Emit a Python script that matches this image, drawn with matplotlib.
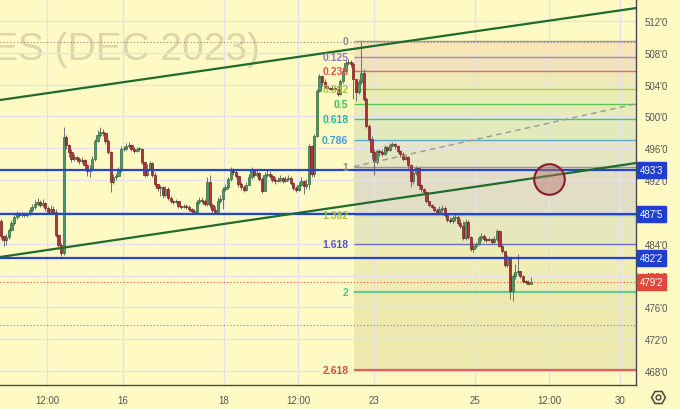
import matplotlib.pyplot as plt
from matplotlib.lines import Line2D
import numpy as np

plt.rcParams['font.family'] = ['Liberation Sans', 'DejaVu Sans']

# candle data (one bar per step), open of each bar = previous close
first_open = 486.9
closes = [
    485.0, 484.5, 484.8, 485.7, 486.6, 487.4, 487.7, 487.6, 487.7, 487.6,
    487.7, 488.2, 488.6, 489.0, 489.2, 488.9, 489.1, 488.5, 488.0, 488.4,
    488.0, 485.1, 483.8, 482.8, 497.4, 496.4, 495.5, 494.7, 494.9, 494.7,
    494.4, 494.5, 493.9, 493.1, 493.4, 494.7, 496.9, 497.7, 498.0, 497.9,
    496.9, 495.5, 491.8, 492.4, 492.5, 493.3, 495.9, 495.9, 496.3, 496.4,
    495.9, 495.7, 495.9, 495.9, 494.3, 492.6, 493.4, 494.2, 492.6, 491.5,
    491.0, 491.1, 490.1, 490.9, 489.8, 489.4, 489.2, 489.4, 488.7, 488.6,
    488.7, 488.6, 488.4, 488.1, 488.0, 489.2, 489.5, 489.4, 489.0, 491.8,
    488.9, 488.2, 488.0, 489.4, 489.6, 490.9, 491.1, 492.1, 493.1, 493.0,
    492.5, 491.5, 491.1, 490.7, 491.4, 492.4, 493.3, 492.6, 492.9, 492.1,
    490.6, 492.6, 492.8, 492.5, 492.0, 491.9, 492.0, 492.3, 491.9, 492.1,
    492.3, 491.6, 491.0, 490.7, 491.4, 491.9, 491.3, 491.5, 496.3, 492.8,
    497.5, 503.2, 505.1, 504.3, 503.8, 503.6, 503.5, 503.6, 503.5, 502.8,
    504.5, 505.7, 506.7, 506.8, 506.6, 504.7, 503.1, 504.3, 505.5, 502.2,
    498.8, 497.2, 495.5, 494.3, 495.7, 495.5, 495.3, 496.2, 495.8, 496.4,
    496.5, 496.3, 495.7, 495.3, 494.7, 494.9, 493.9, 491.9, 492.9, 493.5,
    491.4, 490.9, 490.5, 489.4, 488.9, 488.6, 488.2, 488.0, 488.4, 488.5,
    487.6, 487.0, 486.8, 487.2, 487.4, 486.6, 486.2, 484.7, 486.7, 484.8,
    483.3, 483.7, 484.0, 484.7, 485.0, 484.6, 484.5, 484.6, 484.2, 484.6,
    485.6, 483.7, 483.1, 481.3, 482.3, 478.1, 480.0, 480.4, 480.6, 480.0,
    479.3, 479.2, 479.0, 479.2]
highs = [
    487.1, 485.1, 485.2, 486.0, 487.0, 487.9, 488.1, 488.0, 488.0, 487.9,
    488.0, 488.6, 489.0, 489.5, 489.8, 489.5, 489.6, 489.2, 488.7, 488.9,
    488.7, 488.4, 485.2, 484.1, 498.7, 497.7, 496.5, 495.9, 495.3, 495.0,
    494.9, 494.9, 494.7, 494.0, 493.9, 495.0, 497.2, 498.3, 498.7, 498.4,
    498.0, 497.2, 495.7, 492.8, 492.9, 493.6, 496.3, 496.3, 496.7, 496.8,
    496.5, 496.2, 496.2, 496.2, 496.0, 494.3, 494.0, 494.4, 494.3, 493.0,
    491.5, 491.4, 491.3, 491.3, 491.1, 490.0, 489.5, 489.6, 489.4, 488.9,
    489.0, 489.0, 488.9, 488.5, 488.4, 489.5, 489.9, 489.9, 489.6, 492.4,
    492.6, 489.1, 488.7, 489.9, 490.1, 491.1, 491.5, 492.4, 493.6, 493.5,
    493.3, 492.6, 491.8, 491.4, 491.8, 492.8, 493.6, 493.4, 493.4, 493.0,
    492.4, 493.0, 493.3, 493.1, 492.8, 492.4, 492.4, 492.6, 492.4, 492.5,
    492.6, 492.5, 491.8, 491.3, 491.8, 492.4, 492.0, 492.1, 496.5, 496.4,
    497.8, 503.5, 505.3, 505.2, 504.7, 504.0, 503.7, 503.8, 503.7, 503.7,
    504.7, 506.1, 507.1, 507.2, 507.1, 506.8, 504.7, 504.7, 509.5, 506.0,
    502.4, 499.1, 497.5, 495.9, 495.9, 495.9, 495.9, 496.4, 496.3, 496.7,
    496.8, 496.7, 496.4, 495.8, 495.5, 495.2, 495.0, 494.0, 493.1, 493.8,
    493.6, 491.5, 491.0, 490.6, 489.4, 489.0, 488.7, 488.5, 488.7, 488.9,
    488.7, 487.9, 487.4, 487.6, 487.7, 487.6, 487.1, 486.8, 487.1, 487.0,
    485.0, 484.1, 484.2, 485.0, 485.4, 485.2, 484.8, 484.8, 484.7, 485.0,
    485.9, 485.7, 483.8, 483.1, 482.6, 482.5, 480.2, 481.5, 482.7, 480.6,
    480.1, 479.4, 479.4, 479.8]
lows = [
    484.6, 483.7, 483.8, 484.6, 485.6, 486.3, 487.1, 487.4, 487.4, 487.4,
    487.4, 487.5, 488.0, 488.4, 488.7, 488.6, 488.6, 488.1, 487.7, 487.9,
    487.7, 484.8, 483.3, 482.5, 482.6, 495.9, 494.9, 494.3, 494.4, 494.3,
    494.0, 494.2, 493.4, 492.5, 492.4, 493.1, 494.4, 496.8, 497.4, 497.5,
    496.5, 495.3, 490.5, 491.5, 492.0, 492.6, 493.0, 495.7, 495.8, 496.0,
    495.7, 495.4, 495.5, 495.7, 494.0, 492.4, 492.5, 493.3, 492.4, 491.3,
    490.6, 490.0, 489.8, 489.9, 489.5, 489.1, 489.0, 489.1, 488.5, 488.4,
    488.5, 488.4, 488.1, 487.9, 487.7, 488.0, 489.0, 489.1, 488.7, 488.7,
    488.5, 487.9, 487.7, 488.0, 489.1, 488.4, 490.6, 490.9, 491.9, 492.6,
    492.3, 491.1, 490.7, 490.5, 490.6, 491.4, 492.1, 492.4, 492.4, 491.9,
    490.4, 490.6, 492.4, 492.3, 491.8, 491.5, 491.8, 491.8, 491.6, 491.8,
    491.9, 491.4, 490.7, 490.5, 490.6, 491.3, 490.3, 490.9, 490.9, 492.4,
    492.4, 497.4, 503.1, 503.8, 503.6, 503.3, 503.3, 503.3, 503.2, 502.6,
    502.7, 504.2, 505.5, 506.5, 506.2, 502.2, 501.9, 502.8, 504.1, 501.9,
    498.5, 496.9, 494.7, 492.6, 494.0, 495.0, 495.0, 495.2, 495.5, 495.7,
    496.2, 495.9, 495.4, 494.9, 494.4, 494.5, 493.4, 491.1, 491.5, 492.6,
    490.9, 490.5, 490.3, 489.1, 488.6, 488.5, 488.0, 487.7, 487.7, 488.0,
    487.4, 486.7, 486.6, 486.6, 486.8, 486.3, 486.0, 484.5, 484.5, 484.6,
    483.1, 483.0, 483.5, 483.8, 484.3, 484.3, 484.2, 484.3, 484.0, 484.1,
    484.3, 483.6, 482.8, 481.1, 481.1, 477.1, 476.8, 479.6, 480.1, 479.7,
    479.1, 479.0, 478.9, 479.0]

price_ticks = [468, 472, 476, 480, 484, 488, 492, 496, 500, 504, 508, 512]
price_labels = ["468'0", "472'0", "476'0", "480'0", "484'0", "488'0",
                "492'0", "496'0", "500'0", "504'0", "508'0", "512'0"]
date_ticks = [17.6, 46.7, 85.4, 113.8, 142.9, 181.6, 210.0, 237.2]
date_labels = ['12:00', '16', '18', '12:00', '23', '25', '12:00', '30']

# fibonacci extension
fib_high = 509.5
fib_low = 493.7
fib_start = 135.2
fib_ratios = [0, 0.125, 0.236, 0.382, 0.5, 0.618, 0.786, 1, 1.382, 1.618, 2, 2.618]
fib_names = ['0', '0.125', '0.236', '0.382', '0.5', '0.618', '0.786', '1',
             '1.382', '1.618', '2', '2.618']
fib_colors = ['#8c8c8c', '#9478cc', '#e05252', '#a6c43c', '#3cc43c', '#2cb4a0',
              '#3d9fd9', '#8c8c8c', '#a6c43c', '#5656d0', '#48c890', '#dc4848']
fib_fills = ['#fbe5b7', '#f1e1c0', '#eee9b6', '#e9ecb5', '#e6ebb8', '#e4e9bc',
             '#e3e6c0', '#e2dec5', '#e7e7bd', '#efecb4', '#ece8ae']

# horizontal levels
blue_levels = [493.3, 487.7, 482.2]
blue_labels = ["493'3", "487'5", "482'2"]
last_price = 479.2
last_label = "479'2"
dotted_levels = [509.4, 473.8]

# trend lines
upper_x, upper_y = [-1, 244], [502.04, 513.66]
lower_x, lower_y = [-1, 244], [482.30, 494.18]
dash_x, dash_y = [fib_start, 243.3], [493.7, 501.6]
circle_x, circle_y = 210, 492.1

bg = '#fff9c4'
fig = plt.figure(figsize=(6.8, 4.1), dpi=100, facecolor=bg)
ax = fig.add_axes([0, 24 / 410, 636 / 680, 386 / 410], facecolor=bg)
x_right = 243.3
ax.set_xlim(-0.38, x_right)
ax.set_ylim(466.24, 514.77)

# grid and axes
ax.set_axisbelow(True)
ax.set_xticks(date_ticks)
ax.set_xticklabels(date_labels)
ax.set_yticks(price_ticks)
ax.set_yticklabels(price_labels)
ax.yaxis.tick_right()
ax.grid(color='#e4e2ec', lw=1)
ax.tick_params(axis='both', length=0, labelsize=7, labelcolor='#555555')
ax.tick_params(axis='y', pad=6)
ax.tick_params(axis='x', pad=7)
for s in ['top', 'left']:
    ax.spines[s].set_visible(False)
for s in ['right', 'bottom']:
    ax.spines[s].set_color('#4a4a4a')
    ax.spines[s].set_linewidth(1)

# watermark
ax.text(-8 / 636, 1 - 60 / 386, 'ES (DEC 2023)', transform=ax.transAxes,
        fontsize=28, color='#ddd6ad', ha='left', va='baseline', zorder=0.3)

# fib zones
rng = fib_high - fib_low
fib_prices = [fib_high - r * rng for r in fib_ratios]
for k in range(len(fib_prices) - 1):
    ax.fill_between([fib_start, x_right], fib_prices[k + 1], fib_prices[k],
                    color=fib_fills[k], lw=0, zorder=0.2)
for p, name, col in zip(fib_prices, fib_names, fib_colors):
    lw = 1.6 if name in ('2', '2.618') else 1.0
    ax.hlines(p, fib_start, x_right, color=col, lw=lw, zorder=1.5, alpha=0.85)
    ax.annotate(name, (fib_start, p), xytext=(-4, 0), textcoords='offset points',
                ha='right', va='center', color=col, fontsize=7.5,
                fontweight='bold', zorder=5)

for p in dotted_levels:
    ax.axhline(p, color='#8a8a8a', lw=0.8, ls=(0, (1, 2)), zorder=1.6)
ax.axhline(last_price, color='#e05040', lw=0.8, ls=(0, (1, 2)), zorder=1.6)

# candles
o = np.array([first_open] + closes[:-1])
c = np.array(closes)
hi = np.maximum(np.array(highs), np.maximum(o, c))
lo = np.minimum(np.array(lows), np.minimum(o, c))
x = np.arange(len(c))
up = c >= o
ax.vlines(x, lo, hi, color='#707070', lw=0.7, zorder=2)
body_low = np.minimum(o, c)
body_h = np.maximum(np.abs(c - o), 0.12)
ax.bar(x[up], body_h[up], bottom=body_low[up], width=0.85, color='#4e9466',
       edgecolor='#2e6b42', lw=0.5, zorder=2.2)
ax.bar(x[~up], body_h[~up], bottom=body_low[~up], width=0.85, color='#b3323a',
       edgecolor='#7a1c22', lw=0.5, zorder=2.2)

# blue levels
for p in blue_levels:
    ax.axhline(p, color='#2146c7', lw=1.6, zorder=3)

# trend lines
ax.plot(upper_x, upper_y, color='#1f6b2b', lw=1.6, zorder=3.5)
ax.plot(lower_x, lower_y, color='#1f6b2b', lw=1.6, zorder=3.5)
ax.plot(dash_x, dash_y, color='#9a9a9a', lw=1, dashes=(4, 3), zorder=3.4)
ax.plot(circle_x, circle_y, 'o', ms=22, mfc=(0.72, 0.45, 0.42, 0.45),
        mec='#8b1a2a', mew=1.5, zorder=6)

# price tags on the axis
for p, lab in zip(blue_levels, blue_labels):
    ax.annotate(lab, (1, p), xycoords=('axes fraction', 'data'), xytext=(3, 0),
                textcoords='offset points', ha='left', va='center', color='white',
                fontsize=7, annotation_clip=False, zorder=10,
                bbox=dict(boxstyle='square,pad=0.3', fc='#1f3fcf', ec='#1f3fcf'))
ax.annotate(last_label, (1, last_price), xycoords=('axes fraction', 'data'),
            xytext=(3, 0), textcoords='offset points', ha='left', va='center',
            color='white', fontsize=7, annotation_clip=False, zorder=10,
            bbox=dict(boxstyle='square,pad=0.3', fc='#e0483a', ec='#e0483a'))

# settings icon
fig.add_artist(Line2D([658 / 680], [12 / 410], marker='H', ms=10, mfc='none',
                      mec='#444444', mew=1.1, transform=fig.transFigure))
fig.add_artist(Line2D([658 / 680], [12 / 410], marker='o', ms=3.5, mfc='none',
                      mec='#444444', mew=1.0, transform=fig.transFigure))

fig.savefig('out.png', dpi=100, facecolor=bg)
